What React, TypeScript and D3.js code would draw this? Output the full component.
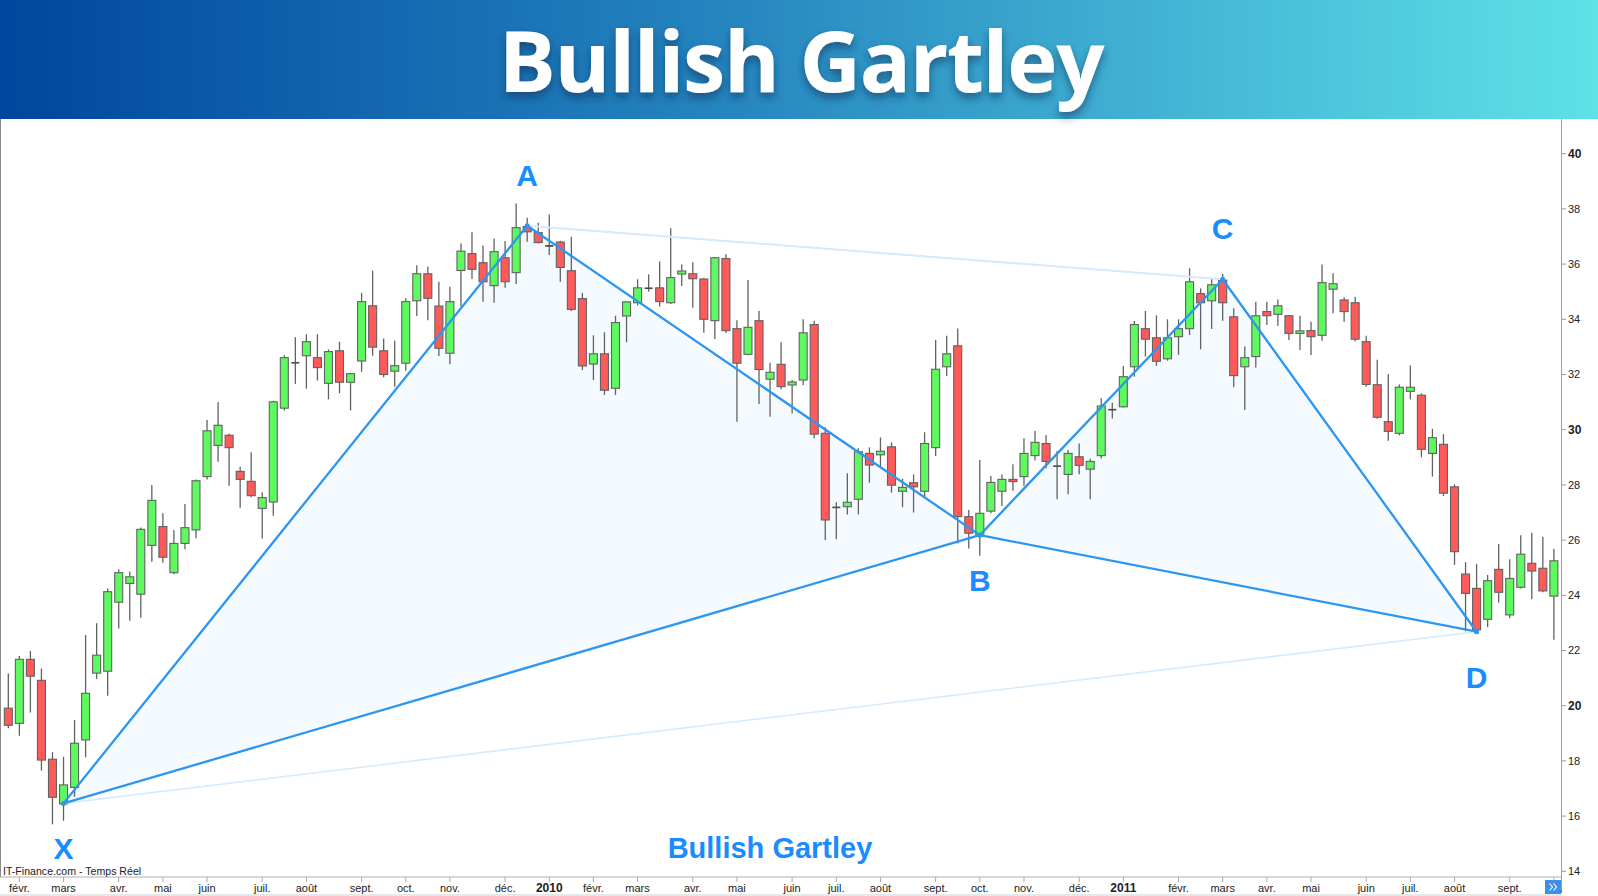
import React from 'react';
import * as d3 from 'd3';

const W = 1598;
const H = 896;

// Weekly candles, first week starting Monday 26 Jan 2009
const firstWeek = new Date(2009, 0, 26);

const opens = [
  19.91, 19.36, 21.68, 20.92, 18.06, 16.44, 17.04, 18.76, 21.18, 21.25,
  23.75, 24.43, 24.04, 25.81, 26.49, 24.82, 25.88, 26.37, 28.30, 29.43,
  29.80, 28.49, 28.13, 27.15, 27.38, 30.78, 32.45, 32.68, 32.61, 31.68,
  32.86, 31.72, 32.49, 34.49, 32.86, 32.12, 32.41, 34.67, 35.65, 34.48,
  32.77, 35.77, 36.38, 36.05, 35.22, 36.23, 35.69, 37.36, 37.14, 36.68,
  36.80, 35.76, 34.75, 32.38, 32.75, 31.50, 34.12, 34.60, 35.11, 35.14,
  34.60, 35.64, 35.65, 35.46, 33.95, 36.20, 33.66, 32.73, 33.95, 31.83,
  32.37, 31.62, 31.80, 33.81, 29.87, 27.17, 27.21, 27.48, 29.14, 29.09,
  29.38, 27.77, 28.08, 27.77, 29.35, 32.28, 33.04, 26.85, 26.15, 27.05,
  27.77, 28.20, 28.30, 29.06, 29.50, 28.66, 28.38, 29.02, 28.57, 29.06,
  30.69, 30.83, 32.28, 33.66, 33.33, 32.57, 33.37, 33.66, 34.93, 34.67,
  35.42, 34.09, 32.28, 32.65, 34.28, 34.18, 34.13, 33.49, 33.59, 33.42,
  35.09, 34.70, 34.60, 33.19, 31.63, 30.29, 29.87, 31.39, 31.25, 29.14,
  29.47, 27.93, 24.77, 24.25, 23.13, 24.94, 23.29, 24.29, 25.16, 24.98,
  23.97,
];
const highs = [
  21.17, 21.80, 21.98, 21.35, 18.32, 18.15, 19.48, 22.56, 22.99, 24.25,
  24.94, 24.86, 26.46, 28.00, 26.97, 26.37, 27.31, 28.20, 30.35, 31.00,
  29.85, 28.66, 29.18, 27.73, 31.05, 32.70, 33.35, 33.46, 33.46, 32.91,
  33.19, 32.06, 34.96, 35.76, 33.30, 33.22, 34.76, 35.96, 35.91, 35.36,
  35.18, 36.75, 37.15, 36.67, 36.93, 36.84, 38.20, 37.68, 37.50, 37.80,
  36.85, 36.99, 34.96, 33.42, 33.53, 34.13, 34.65, 35.45, 35.63, 36.09,
  37.30, 35.99, 36.07, 35.50, 36.25, 36.36, 33.97, 35.42, 34.30, 32.43,
  33.17, 31.80, 34.00, 33.95, 30.09, 27.37, 28.42, 29.33, 29.36, 29.72,
  29.54, 28.22, 28.38, 29.91, 33.25, 33.40, 33.67, 27.09, 28.90, 28.32,
  28.38, 28.75, 29.69, 29.95, 29.81, 29.23, 29.26, 29.50, 28.95, 31.14,
  30.98, 32.31, 33.94, 34.30, 34.14, 34.00, 34.00, 35.85, 35.12, 35.49,
  35.64, 34.40, 33.01, 34.64, 34.64, 34.72, 34.15, 34.13, 33.91, 35.99,
  35.67, 34.80, 34.82, 33.40, 32.53, 32.02, 31.64, 32.33, 31.32, 30.03,
  29.84, 28.02, 25.20, 25.13, 24.74, 25.86, 25.31, 26.18, 26.27, 26.12,
  25.68,
];
const lows = [
  19.18, 18.91, 19.75, 17.65, 15.70, 15.83, 16.70, 18.13, 20.97, 20.36,
  22.80, 23.08, 23.19, 25.22, 25.18, 24.76, 25.67, 26.07, 28.20, 28.84,
  27.97, 27.17, 27.55, 26.05, 26.88, 30.70, 31.66, 31.49, 31.78, 31.10,
  31.32, 30.70, 32.10, 32.68, 31.90, 31.56, 32.14, 34.12, 33.97, 32.67,
  32.37, 34.46, 35.46, 34.64, 34.60, 35.14, 35.28, 36.81, 36.75, 36.33,
  35.36, 34.30, 32.16, 31.80, 31.26, 31.26, 33.17, 34.50, 35.00, 34.46,
  34.55, 35.21, 34.42, 33.51, 33.29, 33.50, 30.29, 32.70, 30.93, 30.47,
  31.47, 30.59, 31.62, 29.69, 26.00, 26.03, 26.93, 26.93, 28.08, 28.66,
  27.72, 27.19, 27.00, 27.51, 29.05, 31.95, 25.88, 25.70, 25.43, 26.97,
  27.24, 27.79, 27.97, 28.88, 28.60, 27.48, 27.66, 28.39, 27.48, 28.96,
  30.41, 30.80, 31.92, 32.65, 32.31, 32.50, 32.71, 33.43, 32.91, 33.65,
  33.95, 31.54, 30.71, 32.25, 33.79, 33.76, 33.25, 32.89, 32.71, 33.22,
  34.22, 33.91, 33.20, 31.56, 30.40, 29.60, 29.80, 31.10, 29.00, 28.30,
  27.60, 25.10, 22.70, 22.68, 22.85, 23.73, 23.17, 24.25, 23.86, 24.11,
  22.39,
];
const closes = [
  19.29, 21.68, 21.07, 18.03, 16.68, 17.13, 18.64, 20.45, 21.83, 24.13,
  24.82, 24.67, 26.39, 27.44, 25.38, 25.88, 26.45, 28.15, 29.96, 30.16,
  29.35, 28.20, 27.61, 27.54, 31.01, 32.61, 32.40, 33.19, 32.25, 32.83,
  31.72, 32.03, 34.64, 32.99, 32.00, 32.32, 34.64, 35.65, 34.76, 32.95,
  34.64, 36.47, 35.81, 35.36, 36.45, 35.36, 37.32, 37.17, 36.78, 36.64,
  35.88, 34.36, 32.31, 32.75, 31.43, 33.88, 34.63, 35.14, 35.14, 34.64,
  35.51, 35.75, 35.47, 34.00, 36.23, 33.59, 32.41, 33.71, 32.18, 32.08,
  31.56, 31.73, 33.51, 29.84, 26.73, 27.20, 27.37, 29.20, 28.72, 29.22,
  27.99, 27.91, 27.93, 29.50, 32.19, 32.75, 26.85, 26.25, 26.97, 28.09,
  28.20, 28.12, 29.14, 29.54, 28.85, 28.70, 29.14, 28.71, 28.85, 30.86,
  30.76, 31.92, 33.81, 33.28, 32.48, 33.33, 33.66, 35.36, 34.60, 35.25,
  34.60, 31.96, 32.61, 34.13, 34.13, 34.49, 33.49, 33.58, 33.37, 35.33,
  35.29, 34.28, 33.28, 31.64, 30.45, 29.94, 31.54, 31.54, 29.29, 29.71,
  27.70, 25.58, 24.07, 22.75, 24.53, 24.11, 24.61, 25.49, 24.88, 24.16,
  25.25,
];

const monthNames = ['janv.', 'févr.', 'mars', 'avr.', 'mai', 'juin', 'juil.', 'août', 'sept.', 'oct.', 'nov.', 'déc.'];
const yTicks = [14, 16, 18, 20, 22, 24, 26, 28, 30, 32, 34, 36, 38, 40];
const boldTicks = [20, 30, 40];

const patternNames = ['X', 'A', 'B', 'C', 'D'];
const patternIdx = [5, 47, 88, 110, 133];
const patternPrice = [16.46, 37.39, 26.18, 35.45, 22.68];

const titleText = 'Bullish Gartley';
const footerLabel = 'Bullish Gartley';
const sourceText = 'IT-Finance.com - Temps Réel';

const UP = '#5ef95e';
const DOWN = '#ff5a5a';
const EDGE = '#626262';
const LINE = '#2c96f0';
const LABEL = '#1a8cff';
const FONT = 'Arial, "Liberation Sans", sans-serif';

export default function App() {
  const n = opens.length;
  const dates = d3.timeMonday.range(firstWeek, d3.timeWeek.offset(firstWeek, n)).slice(0, n);

  const plotTop = 119;
  const plotBottom = 877;
  const plotRight = 1561.5;

  const x = d3.scaleLinear().domain([-0.5, n - 0.5]).range([2.8, 1559.4]);
  const y = d3.scaleLinear().domain([14, 40]).range([871.3, 153.7]);
  const bodyW = 8;

  const monthTicks: { i: number; label: string; year: boolean }[] = [];
  for (let i = 1; i < n; i++) {
    if (dates[i].getMonth() !== dates[i - 1].getMonth()) {
      const m = dates[i].getMonth();
      monthTicks.push({ i, label: m === 0 ? String(dates[i].getFullYear()) : monthNames[m], year: m === 0 });
    }
  }

  const pts = patternIdx.map((idx, k) => [x(idx), y(patternPrice[k])] as [number, number]);
  const line = d3.line();
  const [X, A, B, C, D] = pts;

  return (
    <svg width={W} height={H} style={{ position: 'absolute', left: 0, top: 0, display: 'block', background: '#fff' }}>
      <defs>
        <linearGradient id="band" x1="0" x2="1" y1="0" y2="0">
          <stop offset="0" stopColor="#00469e" />
          <stop offset="0.45" stopColor="#2585bf" />
          <stop offset="1" stopColor="#5fe1e8" />
        </linearGradient>
        <filter id="shadow" x="-10%" y="-30%" width="120%" height="170%">
          <feDropShadow dx="0" dy="5" stdDeviation="4" floodColor="#0a2a50" floodOpacity="0.55" />
        </filter>
        <clipPath id="plot">
          <rect x={0} y={plotTop} width={plotRight} height={plotBottom - plotTop} />
        </clipPath>
      </defs>

      {/* title band */}
      <rect x={0} y={0} width={W} height={plotTop} fill="url(#band)" />
      <text x={801} y={92} textAnchor="middle" fill="#fff" fontFamily='"Open Sans", sans-serif' fontWeight={700} fontSize={85} letterSpacing={-1.3} filter="url(#shadow)">
        {titleText}
      </text>

      {/* frame */}
      <line x1={0.5} x2={0.5} y1={plotTop} y2={plotBottom} stroke="#8a8a8a" />
      <line x1={plotRight} x2={plotRight} y1={plotTop} y2={893} stroke="#a0a0a0" />
      <line x1={0} x2={plotRight} y1={plotBottom} y2={plotBottom} stroke="#b0b0b0" />
      <line x1={0} x2={plotRight} y1={895} y2={895} stroke="#d0d0d0" />

      <g clipPath="url(#plot)">
        {/* pattern fill */}
        <path d={line([X, A, B])! + 'Z'} fill="#eef6ff" fillOpacity={0.6} />
        <path d={line([B, C, D])! + 'Z'} fill="#eef6ff" fillOpacity={0.6} />

        {/* candles */}
        {opens.map((o, i) => {
          const c = closes[i];
          const cx = x(i);
          const top = y(Math.max(o, c));
          const bot = y(Math.min(o, c));
          const h = bot - top;
          return (
            <g key={i}>
              <line x1={cx} x2={cx} y1={y(highs[i])} y2={y(lows[i])} stroke={EDGE} strokeWidth={1.3} />
              {h < 2 ? (
                <line x1={cx - bodyW / 2} x2={cx + bodyW / 2} y1={(top + bot) / 2} y2={(top + bot) / 2} stroke="#4a4a4a" strokeWidth={1.6} />
              ) : (
                <rect x={cx - bodyW / 2} y={top} width={bodyW} height={h} fill={c >= o ? UP : DOWN} stroke={EDGE} strokeWidth={1.1} />
              )}
            </g>
          );
        })}

        {/* faint guide lines */}
        <path d={line([A, C])!} stroke="#d6eafc" strokeWidth={2} fill="none" />
        <path d={line([X, D])!} stroke="#d6eafc" strokeWidth={1.6} fill="none" />

        {/* pattern legs */}
        <path d={line([X, A, B, C, D])!} stroke={LINE} strokeWidth={2.3} fill="none" strokeLinejoin="round" />
        <path d={line([X, B, D])!} stroke={LINE} strokeWidth={2.3} fill="none" strokeLinejoin="round" />
        {pts.map((p, k) => (
          <circle key={k} cx={p[0]} cy={p[1]} r={2.5} fill={LINE} />
        ))}
      </g>

      {/* pattern labels */}
      {pts.map((p, k) => {
        const prev = patternPrice[k - 1] ?? patternPrice[k + 1];
        const above = patternPrice[k] > prev;
        return (
          <text key={k} x={p[0]} y={above ? p[1] - 40 : p[1] + 56} textAnchor="middle" fill={LABEL} fontFamily={FONT} fontWeight={700} fontSize={30}>
            {patternNames[k]}
          </text>
        );
      })}

      <text x={770} y={858} textAnchor="middle" fill={LABEL} fontFamily={FONT} fontWeight={700} fontSize={29}>
        {footerLabel}
      </text>

      <text x={3} y={875} fill="#222" fontFamily={FONT} fontSize={10.6}>
        {sourceText}
      </text>

      {/* y axis */}
      {yTicks.map((t) => (
        <g key={t}>
          <line x1={plotRight + 0.5} x2={plotRight + 4.5} y1={y(t)} y2={y(t)} stroke="#999" />
          <text x={1568} y={y(t)} dy="0.35em" fill="#222" fontFamily={FONT} fontSize={boldTicks.includes(t) ? 12 : 11} fontWeight={boldTicks.includes(t) ? 700 : 400}>
            {t}
          </text>
        </g>
      ))}

      {/* x axis */}
      {monthTicks.map((m) => (
        <g key={m.i}>
          <line x1={x(m.i)} x2={x(m.i)} y1={plotBottom} y2={plotBottom + 5} stroke="#aaa" />
          <text x={x(m.i)} y={892} textAnchor="middle" fill="#222" fontFamily={FONT} fontSize={m.year ? 12 : 11} fontWeight={m.year ? 700 : 400}>
            {m.label}
          </text>
        </g>
      ))}

      {/* scroll button */}
      <rect x={1545} y={880} width={16} height={14} fill="#3f8ee8" />
      <path d="M1549.5,883.5 L1552.5,887 L1549.5,890.5 M1553.5,883.5 L1556.5,887 L1553.5,890.5" stroke="#fff" strokeWidth={1.1} fill="none" />
    </svg>
  );
}
